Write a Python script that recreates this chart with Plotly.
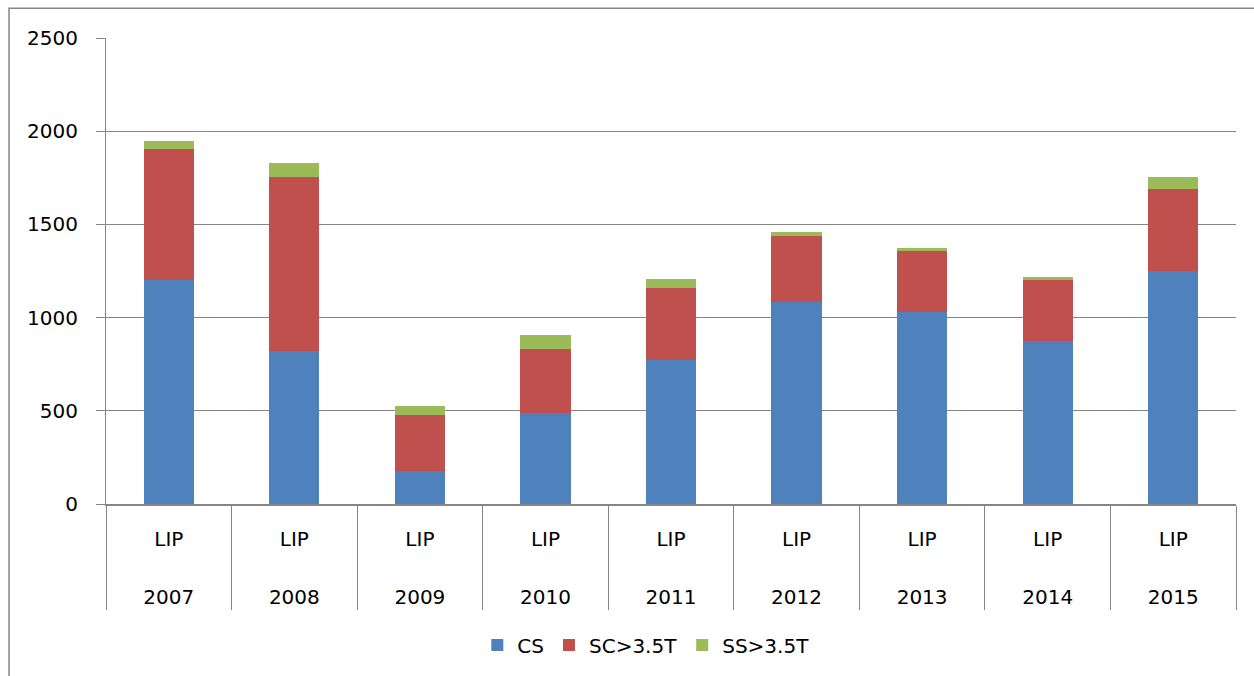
import plotly.graph_objects as go

years = ["2007", "2008", "2009", "2010", "2011", "2012", "2013", "2014", "2015"]
site = ["LIP"] * 9
cs = [1203, 822, 179, 486, 775, 1086, 1031, 872, 1251]
sc = [702, 933, 296, 343, 385, 353, 327, 331, 439]
ss = [45, 75, 52, 79, 48, 21, 17, 16, 65]

names = ["CS", "SC>3.5T", "SS>3.5T"]
colors = ["#4F81BD", "#C0504D", "#9BBB59"]
y_ticks = [0, 500, 1000, 1500, 2000, 2500]

site_labels = [s + "<br>\u00a0<br><span style='font-size:4px'>\u00a0</span>" for s in site]

FONT = "DejaVu Sans"
fig = go.Figure()
for name, vals, col in zip(names, [cs, sc, ss], colors):
    fig.add_trace(go.Bar(x=[years, site_labels], y=vals, name=name, marker_color=col,
                         marker_line_width=0))

fig.update_layout(
    barmode="stack",
    bargap=0.6,
    width=1254, height=676,
    margin=dict(l=106, r=18, t=38, b=172),
    paper_bgcolor="white", plot_bgcolor="white",
    font=dict(family=FONT, size=20, color="#000000"),
    legend=dict(orientation="h", xref="container", yref="container",
                x=0.515, y=0.046, xanchor="center", yanchor="middle",
                font=dict(size=20), traceorder="normal"),
    showlegend=True,
)
fig.update_yaxes(range=[0, 2500], tickvals=y_ticks, showgrid=True,
                 gridcolor="#868686", gridwidth=1, showline=True,
                 linecolor="#868686", linewidth=1, ticks="outside",
                 ticklen=9, tickcolor="#868686", zeroline=False,
                 ticklabelstandoff=14, automargin=False)
fig.update_xaxes(showline=True, linecolor="#868686", linewidth=2,
                 showdividers=True, dividercolor="#868686", dividerwidth=1,
                 ticks="", tickson="boundaries", ticklabelstandoff=16,
                 automargin=False)
fig.add_shape(type="rect", xref="paper", yref="paper", x0=-0.0858, x1=1.05,
              y0=-0.5, y1=1.064, line=dict(color="#868686", width=1.5),
              fillcolor="rgba(0,0,0,0)", layer="below")
fig.write_html("out.html", config={"displayModeBar": False},
               post_script="document.body.style.margin='0px';")
